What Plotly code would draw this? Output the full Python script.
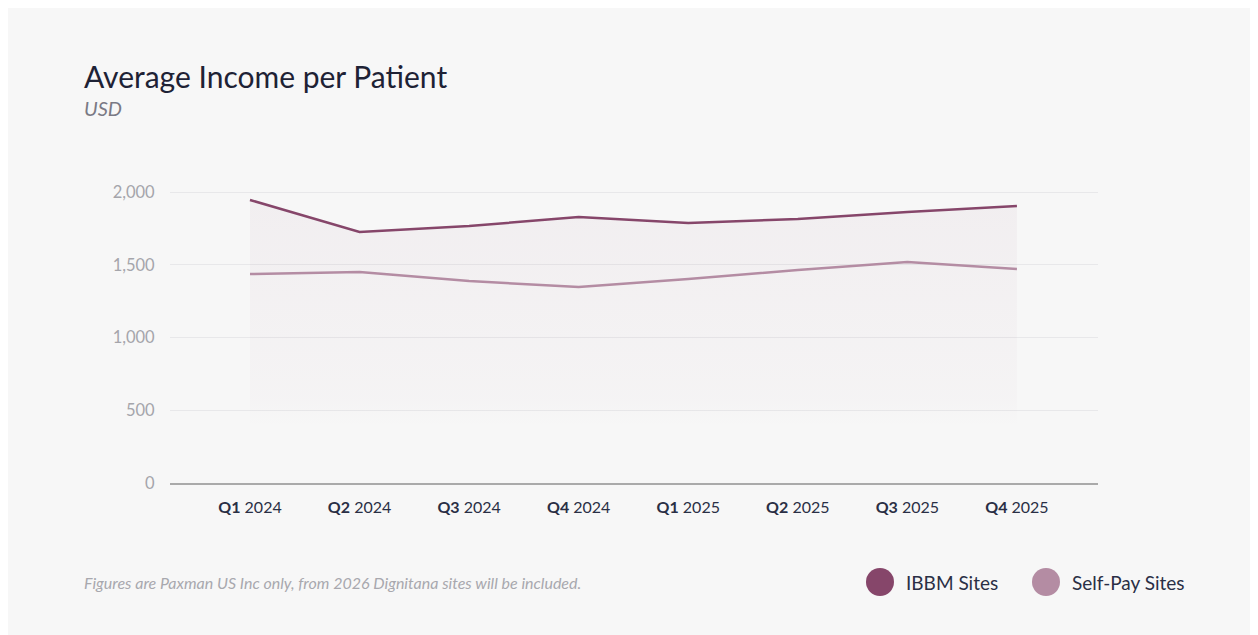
import plotly.graph_objects as go

quarters = ["Q1", "Q2", "Q3", "Q4", "Q1", "Q2", "Q3", "Q4"]
years = ["2024", "2024", "2024", "2024", "2025", "2025", "2025", "2025"]
categories = [f"{q} {y}" for q, y in zip(quarters, years)]
tick_labels = [f"<b>{q}</b> {y}" for q, y in zip(quarters, years)]

series_names = ["IBBM Sites", "Self-Pay Sites"]
ibbm = [1945, 1725, 1766, 1828, 1787, 1814, 1862, 1904]
self_pay = [1436, 1450, 1388, 1347, 1402, 1464, 1519, 1471]
series_colors = ["#86466a", "#b48ca3"]

y_ticks = [0, 500, 1000, 1500, 2000]

OFF = 8  # page body margin
W, H = 1258 - OFF, 635 - OFF
L, R, T, B = 170 - OFF, 1098 - OFF, 150 - OFF, 483 - OFF
pw, ph = R - L, B - T
ymax = (483 - 150) / ((483 - 192) / 2000)

def px(x):
    return (x - OFF - L) / pw

def py(y):
    return (B - (y - OFF)) / ph

fig = go.Figure()

fig.add_trace(go.Scatter(
    x=categories, y=ibbm, mode="lines", name=series_names[0],
    line=dict(color=series_colors[0], width=2.5),
    fill="tozeroy",
    fillgradient=dict(
        type="vertical", start=0, stop=max(ibbm),
        colorscale=[[0, "rgba(134,70,106,0)"], [0.2, "rgba(134,70,106,0)"],
                    [0.3, "rgba(134,70,106,0.02)"], [1, "rgba(134,70,106,0.05)"]],
    ),
    showlegend=False, hoverinfo="skip",
))
fig.add_trace(go.Scatter(
    x=categories, y=self_pay, mode="lines", name=series_names[1],
    line=dict(color=series_colors[1], width=2.5),
    showlegend=False,
))

shapes = [dict(type="rect", xref="paper", yref="paper", layer="below",
               x0=px(6), x1=px(1252), y0=py(645), y1=py(5),
               fillcolor="#f7f7f7", line=dict(width=0))]

annotations = [
    dict(text="Average Income per Patient", x=px(82), y=py(76), xref="paper", yref="paper",
         xanchor="left", yanchor="middle", showarrow=False,
         font=dict(family="Lato", size=30, color="#1e2235")),
    dict(text="<i>USD</i>", x=px(82), y=py(108), xref="paper", yref="paper",
         xanchor="left", yanchor="middle", showarrow=False,
         font=dict(family="Lato", size=20, color="#7a7a85")),
    dict(text="<i>Figures are Paxman US Inc only, from 2026 Dignitana sites will be included.</i>",
         x=px(82), y=py(582), xref="paper", yref="paper",
         xanchor="left", yanchor="middle", showarrow=False,
         font=dict(family="Lato", size=16, color="#a8a8ae")),
]

legend_x = [880, 1046]
for name, color, cx in zip(series_names, series_colors, legend_x):
    r = 14
    shapes.append(dict(type="circle", xref="paper", yref="paper",
                       x0=px(cx - r), x1=px(cx + r), y0=py(582 + r), y1=py(582 - r),
                       fillcolor=color, line=dict(width=0)))
    annotations.append(dict(text=name, x=px(cx + 24), y=py(582), xref="paper", yref="paper",
                            xanchor="left", yanchor="middle", showarrow=False,
                            font=dict(family="Lato", size=19, color="#2a2f45")))

fig.update_layout(
    width=W, height=H,
    margin=dict(l=L, r=W - R, t=T, b=H - B, pad=0),
    paper_bgcolor="white",
    plot_bgcolor="rgba(0,0,0,0)",
    shapes=shapes,
    annotations=annotations,
    showlegend=False,
    xaxis=dict(
        type="category", range=[-0.73, 7.74],
        tickmode="array", tickvals=categories, ticktext=tick_labels,
        showgrid=False, showline=True, linecolor="#aaaaaa", linewidth=1.5,
        ticks="outside", ticklen=9, tickcolor="rgba(0,0,0,0)",
        tickfont=dict(family="Lato", size=16, color="#2a2f45"),
        fixedrange=True,
    ),
    yaxis=dict(
        range=[0, ymax], tickmode="array", tickvals=y_ticks,
        tickformat=",", showgrid=True, gridcolor="#e8e8ea", gridwidth=1,
        zeroline=False, showline=False,
        ticks="outside", ticklen=11, tickcolor="rgba(0,0,0,0)",
        tickfont=dict(family="Lato", size=16.5, color="#a5a5ab"),
        fixedrange=True,
    ),
)

fig.write_html("out.html")
